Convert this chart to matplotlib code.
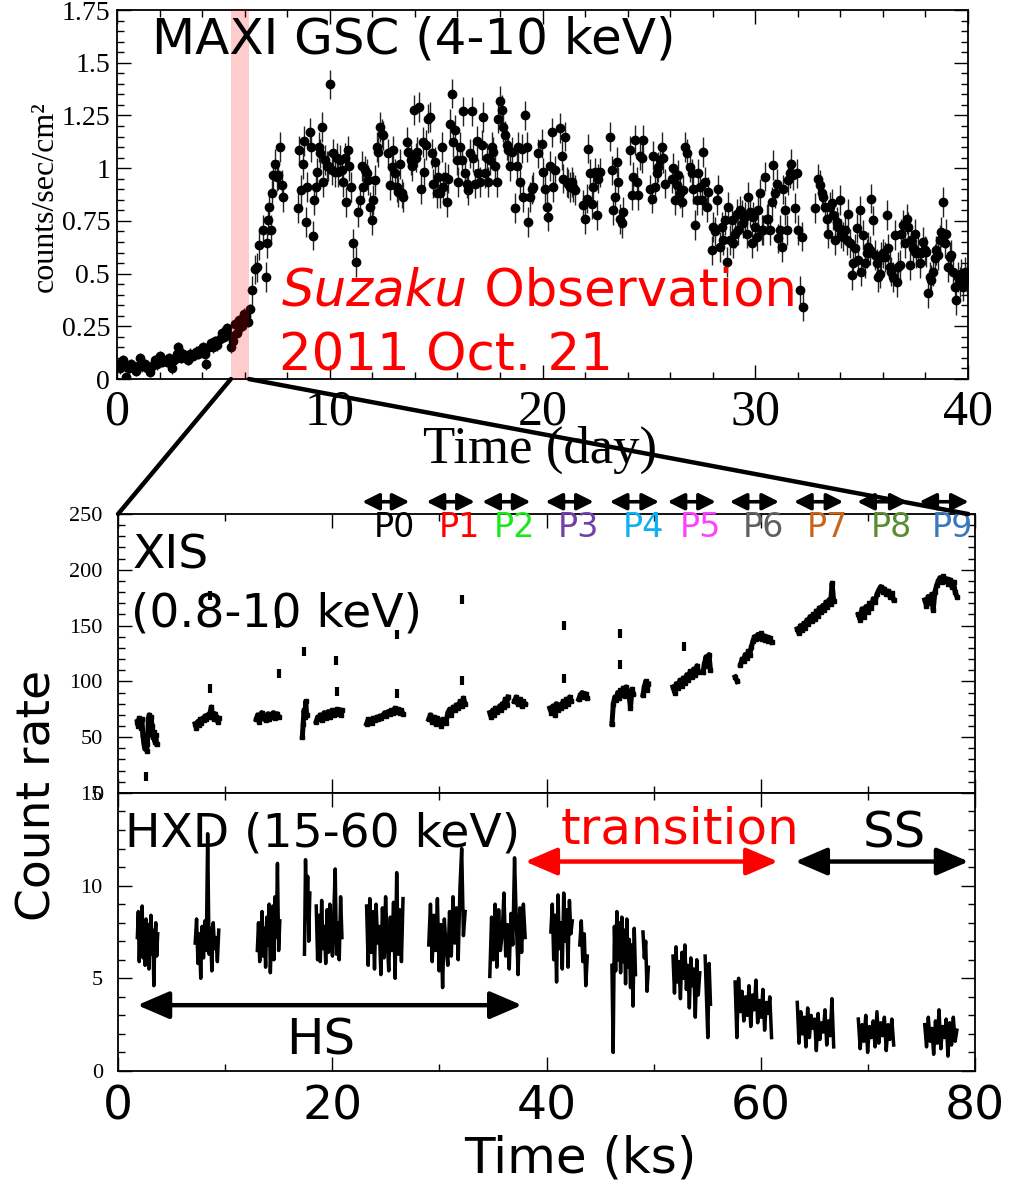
import numpy as np
import matplotlib.pyplot as plt
from matplotlib.patches import ConnectionPatch
from matplotlib.ticker import MultipleLocator

SERIF = 'Liberation Serif'
SANS = 'DejaVu Sans'

# MAXI GSC light curve (day, counts/sec/cm2)
maxi_points = [
    (0.05, 0.07), (0.15, 0.05), (0.28, 0.09), (0.38, 0.06), (0.44, 0.01), (0.55, 0.05), (0.65, 0.07),
    (0.75, 0.05), (0.88, 0.04), (1.0, 0.06), (1.06, 0.1), (1.15, 0.06), (1.3, 0.07), (1.4, 0.05),
    (1.53, 0.035), (1.62, 0.06), (1.77, 0.09), (1.88, 0.07), (2.0, 0.11), (2.1, 0.08), (2.2, 0.09),
    (2.33, 0.08), (2.45, 0.1), (2.56, 0.05), (2.68, 0.09), (2.8, 0.12), (2.88, 0.15), (3.0, 0.1),
    (3.1, 0.12), (3.22, 0.1), (3.35, 0.09), (3.45, 0.12), (3.58, 0.11), (3.7, 0.13), (3.8, 0.12),
    (3.9, 0.14), (4.02, 0.15), (4.12, 0.12), (4.2, 0.07), (4.32, 0.15), (4.42, 0.17), (4.5, 0.15),
    (4.62, 0.18), (4.72, 0.16), (4.84, 0.19), (4.95, 0.22), (5.05, 0.2), (5.15, 0.24), (5.25, 0.21),
    (5.35, 0.15), (5.45, 0.18), (5.55, 0.26), (5.65, 0.22), (5.75, 0.28), (5.85, 0.25), (5.95, 0.31),
    (6.05, 0.3), (6.15, 0.27), (6.25, 0.33),
    (6.33, 0.42), (6.49, 0.52), (6.56, 0.53), (6.69, 0.635), (6.85, 0.706), (6.99, 0.485), (7.03, 0.643),
    (7.11, 0.753), (7.16, 0.817), (7.22, 0.706), (7.3, 0.88), (7.35, 0.967), (7.42, 1.02), (7.5, 0.96),
    (7.58, 0.967), (7.66, 1.1), (7.74, 0.92), (7.82, 0.864),
    (8.49, 0.81), (8.57, 1.085), (8.63, 0.896), (8.72, 1.02), (8.8, 1.13), (8.88, 0.745), (8.94, 0.91),
    (9.07, 1.17), (9.13, 1.1), (9.2, 0.68), (9.26, 0.85), (9.34, 0.91), (9.41, 0.98), (9.48, 1.1),
    (9.54, 1.07), (9.62, 1.195), (9.7, 0.935), (9.77, 1.04), (9.85, 1.01), (9.93, 1.01), (10.0, 1.397),
    (10.09, 0.99), (10.17, 1.07), (10.24, 0.98), (10.32, 1.05), (10.4, 0.98), (10.48, 1.04), (10.56, 0.99),
    (10.64, 0.935), (10.71, 1.05), (10.76, 0.84), (10.84, 1.085), (10.92, 1.01), (10.98, 0.91),
    (11.1, 0.643), (11.22, 0.556), (11.34, 0.79), (11.42, 0.85), (11.5, 1.01), (11.58, 0.91), (11.65, 0.99),
    (11.73, 0.975), (11.81, 0.943), (11.89, 0.817), (11.97, 0.753), (12.05, 0.85), (12.12, 0.943),
    (12.2, 1.1), (12.28, 1.077), (12.36, 1.195), (12.44, 1.164), (12.52, 1.156), (12.75, 1.07),
    (12.83, 0.92), (12.91, 1.006), (12.99, 1.085), (13.06, 0.975), (13.14, 0.91), (13.22, 0.888),
    (13.3, 1.02), (13.38, 0.88), (13.46, 0.864), (13.61, 1.125), (13.69, 1.077), (13.8, 1.04),
    (13.88, 1.01), (13.96, 1.275), (14.04, 1.05), (14.11, 1.077), (14.19, 1.29), (14.28, 0.9),
    (14.36, 1.125), (14.44, 0.98), (14.52, 1.11), (14.6, 1.235), (14.71, 1.243), (14.79, 1.07),
    (14.87, 0.927), (14.94, 1.03), (15.02, 0.88), (15.1, 0.96), (15.18, 0.88), (15.26, 1.1), (15.34, 0.91),
    (15.41, 0.96), (15.49, 0.84), (15.57, 0.95), (15.65, 1.21), (15.73, 1.354), (15.8, 1.125), (15.88, 1.18),
    (15.96, 1.04), (16.04, 0.935), (16.12, 1.1), (16.2, 1.04), (16.27, 1.27), (16.35, 0.975), (16.43, 0.927),
    (16.51, 0.896), (16.59, 1.07), (16.67, 1.27), (16.75, 1.05), (16.82, 0.927), (16.9, 1.13), (16.98, 0.975),
    (17.06, 0.935), (17.14, 1.11), (17.22, 1.243), (17.3, 0.975), (17.37, 1.05), (17.45, 0.935), (17.53, 1.04),
    (17.61, 1.1), (17.69, 1.077), (17.76, 1.01), (17.84, 0.935), (17.92, 1.235), (18.0, 1.32), (18.08, 1.275),
    (18.16, 1.195), (18.24, 1.156), (18.31, 1.11), (18.39, 1.085), (18.47, 1.01), (18.55, 1.077), (18.71, 0.81),
    (18.78, 1.01), (18.86, 1.1), (18.94, 0.935), (19.02, 1.093), (19.1, 0.864), (19.18, 1.25), (19.25, 1.1),
    (19.33, 0.745), (19.41, 0.864), (19.49, 0.9), (19.56, 0.91), (19.8, 1.07), (19.96, 1.117), (20.04, 0.98),
    (20.11, 0.9), (20.19, 0.817), (20.27, 0.77), (20.35, 1.01), (20.43, 1.17), (20.51, 0.91), (20.58, 0.99),
    (20.82, 1.19), (20.9, 1.06), (20.98, 0.95), (21.05, 1.15), (21.13, 0.935), (21.21, 0.927), (21.29, 0.91),
    (21.37, 0.935), (21.45, 0.91), (21.53, 0.896), (21.92, 0.825), (22.0, 0.76), (22.07, 0.856), (22.16, 1.093),
    (22.23, 0.975), (22.31, 0.83), (22.39, 0.91), (22.47, 0.98), (22.55, 0.777), (22.62, 0.95), (22.7, 0.98),
    (23.17, 1.15), (23.25, 0.99), (23.33, 0.8), (23.41, 0.864), (23.49, 1.03), (23.56, 0.935), (23.64, 0.76),
    (23.72, 0.738), (23.8, 0.793), (24.11, 1.085), (24.19, 0.872), (24.27, 0.959), (24.35, 1.133),
    (24.43, 0.935), (24.51, 0.872), (24.58, 1.06), (24.66, 1.046), (24.74, 1.133), (25.05, 0.9), (25.13, 0.856),
    (25.21, 1.06), (25.29, 0.91), (25.37, 0.975), (25.45, 1.006), (25.52, 1.04), (25.6, 1.1), (25.68, 1.046),
    (25.76, 0.927), (26.07, 0.95), (26.15, 1.0), (26.23, 0.85), (26.31, 0.92), (26.39, 0.967), (26.46, 0.88),
    (26.54, 0.84), (26.62, 0.896), (26.7, 1.1), (26.78, 1.07), (26.93, 1.006), (27.01, 0.975), (27.09, 0.9),
    (27.17, 0.73), (27.25, 0.85), (27.33, 0.975), (27.41, 0.91), (27.49, 0.85), (27.56, 1.077), (27.64, 0.935),
    (27.72, 0.817), (27.8, 0.888), (27.95, 0.61), (28.03, 0.72), (28.11, 0.7), (28.19, 0.85), (28.27, 0.9),
    (28.35, 0.627), (28.42, 0.72), (28.5, 0.66), (28.58, 0.753), (28.66, 0.556), (28.74, 0.817), (28.81, 0.66),
    (28.89, 0.753), (28.97, 0.643), (29.05, 0.69), (29.13, 0.785), (29.2, 0.706), (29.28, 0.8), (29.36, 0.777),
    (29.44, 0.738), (29.52, 0.77), (29.6, 0.69), (29.67, 0.864), (29.75, 0.793), (29.83, 0.643), (29.91, 0.77),
    (29.98, 0.72), (30.06, 0.675), (30.14, 0.8), (30.22, 0.88), (30.3, 0.706), (30.38, 0.706), (30.45, 0.96),
    (30.53, 0.76), (30.61, 0.76), (30.69, 0.706), (30.77, 0.84), (30.84, 1.014), (30.92, 0.88), (31.0, 0.927),
    (31.08, 0.667), (31.16, 0.706), (31.24, 0.627), (31.31, 0.9), (31.39, 0.8), (31.47, 0.706), (31.55, 0.943),
    (31.63, 0.975), (31.7, 1.02), (31.78, 0.967), (31.86, 0.81), (31.94, 0.975), (32.02, 0.706), (32.1, 0.42),
    (32.18, 0.675), (32.25, 0.343),
    (32.81, 0.81), (32.96, 0.95), (33.04, 0.92), (33.12, 0.88), (33.2, 0.864), (33.27, 0.817), (33.35, 0.76),
    (33.43, 0.69), (33.51, 0.817), (33.59, 0.833), (33.66, 0.777), (33.74, 0.66), (33.82, 0.745), (33.9, 0.72),
    (33.98, 0.85), (34.05, 0.69), (34.13, 0.675), (34.21, 0.706), (34.29, 0.66), (34.37, 0.785), (34.45, 0.643),
    (34.53, 0.493), (34.6, 0.548), (34.68, 0.62), (34.76, 0.714), (34.84, 0.564), (34.92, 0.8), (34.99, 0.51),
    (35.07, 0.682), (35.15, 0.548), (35.23, 0.596), (35.31, 0.627), (35.39, 0.61), (35.46, 0.856), (35.54, 0.753),
    (35.62, 0.588), (35.7, 0.548), (35.78, 0.485), (35.86, 0.5), (35.93, 0.58), (36.01, 0.596), (36.09, 0.58),
    (36.17, 0.777), (36.25, 0.62), (36.32, 0.532), (36.4, 0.51), (36.48, 0.485), (36.56, 0.682), (36.64, 0.46),
    (36.72, 0.532), (36.79, 0.54), (36.87, 0.69), (36.95, 0.73), (37.03, 0.643), (37.11, 0.76), (37.18, 0.72),
    (37.26, 0.54), (37.34, 0.66), (37.42, 0.62), (37.5, 0.69), (37.57, 0.596), (37.65, 0.603), (37.73, 0.548),
    (37.81, 0.596), (37.89, 0.65), (37.97, 0.61), (38.04, 0.603), (38.12, 0.406), (38.2, 0.485), (38.28, 0.47),
    (38.36, 0.51), (38.44, 0.572), (38.51, 0.61), (38.59, 0.588), (38.67, 0.66), (38.75, 0.698), (38.83, 0.84),
    (38.9, 0.643), (38.98, 0.69), (39.06, 0.532), (39.14, 0.58), (39.22, 0.588), (39.29, 0.51), (39.37, 0.438),
    (39.45, 0.374), (39.53, 0.485), (39.61, 0.46), (39.69, 0.5), (39.77, 0.438), (39.85, 0.51), (39.93, 0.47),
]

# Suzaku observation window (day)
suzaku_start = 5.35
suzaku_end = 6.2

# XIS light curve, one entry per orbit: (start ks, end ks, count rates)
xis_segments = [
    (1.8, 3.6, [64, 60, 67, 62, 58, 66, 52, 45, 40, 48, 38, 44, 66, 70, 63, 68, 60, 50, 55, 46, 52, 44]),
    (7.2, 9.4, [62, 58, 64, 61, 66, 63, 67, 65, 69, 66, 70, 68, 72, 77, 70, 66, 71, 68, 64, 67]),
    (12.9, 15.0, [66, 70, 64, 68, 72, 67, 70, 65, 69, 71, 66, 70, 68, 72, 67, 69, 71, 68]),
    (17.2, 17.6, [50, 62, 74, 68, 82, 70]),
    (18.5, 20.9, [64, 68, 66, 70, 65, 69, 72, 67, 70, 73, 68, 71, 74, 70, 72, 75, 71, 73, 70, 74]),
    (23.2, 26.6, [62, 66, 64, 63, 67, 65, 68, 66, 69, 67, 70, 72, 69, 73, 71, 74, 72, 76, 73, 75, 72, 74, 71]),
    (29.0, 32.4, [66, 70, 64, 68, 62, 67, 65, 60, 66, 64, 63, 72, 75, 70, 77, 74, 79, 76, 82, 78, 85, 80]),
    (34.7, 36.4, [72, 68, 74, 70, 76, 73, 75, 78, 74, 80, 77, 84, 79, 86]),
    (37.0, 38.0, [82, 86, 80, 84, 78, 82, 80]),
    (40.3, 42.3, [76, 72, 78, 70, 80, 74, 79, 76, 82, 78, 84, 80, 86, 82]),
    (43.0, 43.8, [84, 88, 90, 86, 89, 85]),
    (46.1, 48.1, [62, 80, 86, 83, 90, 85, 92, 88, 94, 87, 95, 90, 88, 76, 93, 89]),
    (49.0, 49.5, [88, 95, 100, 92, 98]),
    (51.8, 54.2, [95, 90, 98, 94, 101, 96, 103, 99, 106, 101, 109, 104, 111, 106, 114, 108]),
    (54.6, 55.3, [108, 116, 122, 114, 124, 110]),
    (57.6, 57.8, [104, 100]),
    (58.1, 61.0, [115, 120, 118, 124, 121, 127, 124, 131, 136, 140, 138, 142, 139, 143, 138, 141, 137, 140, 136, 139, 135]),
    (63.4, 66.8, [147, 143, 150, 146, 152, 148, 155, 151, 158, 154, 160, 156, 163, 159, 166, 162, 168, 164, 171, 167, 173, 169, 188, 172]),
    (69.1, 72.4, [160, 155, 165, 158, 167, 162, 170, 166, 174, 171, 178, 182, 185, 180, 183, 178, 181, 176, 179, 173]),
    (75.3, 78.3, [173, 168, 176, 170, 178, 164, 180, 186, 190, 193, 189, 194, 190, 192, 187, 191, 185, 189, 180, 176]),
]
# isolated XIS bins (ks, count rate)
xis_single_t = [2.6, 8.6, 8.6, 14.9, 15.0, 17.4, 20.3, 20.4, 26.0, 26.0, 32.1, 32.1, 41.6, 41.6, 46.9, 46.9, 52.8]
xis_single_c = [15, 94, 177, 152, 107, 127, 119, 91, 89, 142, 101, 173, 103, 150, 143, 115, 131]

# HXD light curve: (start ks, end ks, count rates)
hxd_segments = [
    (1.8, 3.7, [7.2, 8.6, 5.9, 7.8, 6.4, 8.9, 6.1, 7.5, 5.7, 8.2, 6.8, 7.9, 5.5, 7.1, 8.4, 6.3, 7.6, 4.6, 7.0, 8.0, 6.2, 7.4]),
    (7.2, 9.4, [6.9, 8.2, 5.8, 7.4, 5.0, 7.8, 6.1, 8.1, 6.5, 12.8, 6.3, 7.7, 5.4, 8.0, 6.6, 7.2, 5.9, 7.6]),
    (13.0, 15.1, [6.5, 8.0, 5.9, 7.1, 8.6, 6.2, 7.7, 5.6, 8.3, 6.8, 9.0, 5.3, 7.4, 8.9, 6.0, 9.4, 7.2, 11.2, 6.5, 8.1]),
    (17.4, 17.9, [6.3, 11.4, 8.2, 10.5, 7.0, 9.6]),
    (18.5, 20.9, [8.9, 6.0, 8.4, 5.9, 9.2, 6.6, 7.8, 5.8, 8.7, 6.4, 9.0, 7.1, 6.2, 8.6, 10.9, 6.3, 8.0, 6.0, 9.4, 7.2]),
    (23.2, 26.6, [8.9, 5.7, 9.3, 6.4, 8.6, 5.5, 9.0, 6.9, 7.8, 5.2, 8.8, 6.1, 9.4, 7.0, 5.4, 8.3, 6.5, 9.1, 5.0, 10.7, 6.3, 8.7, 5.9, 9.3]),
    (29.0, 32.4, [6.8, 9.0, 5.9, 8.4, 6.5, 9.3, 5.4, 7.9, 4.5, 8.2, 6.7, 5.7, 8.6, 6.2, 9.4, 6.9, 8.8, 6.0, 9.9, 12.0, 7.3, 8.6]),
    (34.7, 38.0, [5.1, 8.3, 6.0, 9.0, 5.6, 8.7, 6.5, 7.4, 9.6, 6.2, 7.9, 5.5, 8.5, 6.8, 11.5, 8.1, 5.2, 8.8, 6.4, 9.0, 7.2]),
    (40.4, 42.4, [7.5, 9.0, 6.0, 8.4, 4.8, 9.5, 6.6, 8.0, 5.5, 9.6, 7.0, 8.7, 5.6, 9.2, 7.4, 8.1]),
    (43.1, 43.8, [6.8, 8.1, 5.9, 7.4, 4.6, 6.2]),
    (46.1, 48.3, [5.7, 1.0, 7.8, 5.4, 8.6, 6.0, 8.0, 5.3, 8.3, 5.9, 7.6, 4.7, 8.2, 5.6, 7.1, 4.5, 6.8, 3.5, 7.7, 5.2]),
    (49.0, 49.5, [7.5, 6.1, 7.0, 4.3, 5.6]),
    (51.8, 54.3, [6.2, 4.2, 6.7, 4.8, 5.9, 3.9, 6.4, 5.0, 6.8, 4.4, 5.7, 3.4, 6.1, 4.6, 5.5, 2.9, 6.0, 4.1, 5.3]),
    (54.8, 55.3, [6.2, 4.0, 1.8, 5.8, 3.6]),
    (57.6, 61.0, [4.8, 1.8, 5.0, 3.2, 4.3, 2.7, 4.0, 3.0, 4.6, 2.4, 4.1, 3.3, 4.9, 2.6, 3.8, 2.9, 4.4, 2.2, 3.7, 3.1, 4.0, 1.8]),
    (63.4, 66.8, [3.7, 1.5, 3.2, 2.0, 2.9, 1.3, 3.4, 1.8, 3.0, 2.3, 2.8, 1.1, 3.1, 1.7, 2.6, 2.1, 3.3, 1.4, 2.7, 1.9, 3.9, 1.3]),
    (69.1, 72.4, [2.8, 1.2, 2.5, 1.6, 3.0, 1.0, 2.4, 1.8, 2.7, 1.3, 3.2, 1.5, 2.6, 1.9, 2.9, 1.1, 2.5, 1.7, 2.8, 1.4]),
    (75.3, 78.3, [2.5, 1.3, 2.9, 1.6, 2.3, 0.9, 2.7, 1.5, 3.3, 1.2, 2.4, 1.8, 2.8, 0.8, 2.6, 1.4, 2.9, 1.6, 2.2]),
]

# spectral phases P0-P9 (ks)
phase_names = ['P0', 'P1', 'P2', 'P3', 'P4', 'P5', 'P6', 'P7', 'P8', 'P9']
phase_start = [22.8, 28.8, 34.0, 39.9, 45.9, 51.3, 57.1, 63.1, 69.0, 74.8]
phase_end = [27.2, 33.3, 38.5, 44.4, 50.5, 55.8, 61.7, 67.7, 73.7, 79.4]
phase_colors = ['#000000', '#ff0000', '#1ee61e', '#7040a8', '#10b0f0', '#ff40ff',
                '#606060', '#c8641e', '#5a8c32', '#3a78bc']

# states (ks)
hs_range = (1.8, 37.7)
trans_range = (38.0, 61.6)
ss_range = (63.2, 79.4)

fig = plt.figure(figsize=(10.09, 11.83), dpi=100)
ax1 = fig.add_axes([0.116, 0.6796, 0.8434, 0.3119])
ax2 = fig.add_axes([0.117, 0.3297, 0.8494, 0.2358])
ax3 = fig.add_axes([0.117, 0.0947, 0.8494, 0.2350])

for ax in (ax1, ax2, ax3):
    ax.tick_params(which='both', direction='in', top=True, right=True, width=1.0)
    ax.tick_params(which='major', length=10)
    ax.tick_params(which='minor', length=5)
    for s in ax.spines.values():
        s.set_linewidth(1.3)

# ---- top panel: MAXI ----
md = np.array([p[0] for p in maxi_points])
mr = np.array([p[1] for p in maxi_points])
merr = np.where(md < 6.3, 0.025, 0.07)
ax1.errorbar(md, mr, yerr=merr, fmt='o', color='black', ms=6, elinewidth=1.0,
             ecolor='#222222', capsize=0, zorder=2)
ax1.axvspan(suzaku_start, suzaku_end, color='red', alpha=0.2, lw=0, zorder=3)
ax1.set_xlim(0, 40)
ax1.set_ylim(0, 1.75)
ax1.xaxis.set_major_locator(MultipleLocator(10))
ax1.xaxis.set_minor_locator(MultipleLocator(2))
ax1.yaxis.set_minor_locator(MultipleLocator(0.05))
ax1.set_yticks([0, 0.25, 0.5, 0.75, 1.0, 1.25, 1.5, 1.75])
ax1.set_yticklabels(['0', '0.25', '0.5', '0.75', '1', '1.25', '1.5', '1.75'])
ax1.tick_params(axis='x', pad=7)
ax1.tick_params(axis='y', pad=5)
for lab in ax1.get_xticklabels():
    lab.set_fontfamily(SERIF)
    lab.set_fontsize(36)
for lab in ax1.get_yticklabels():
    lab.set_fontfamily(SERIF)
    lab.set_fontsize(20)

ax1.text(0.041, 0.883, 'MAXI GSC (4-10 keV)', transform=ax1.transAxes,
         fontsize=36, family=SANS, va='baseline', ha='left')
t_suz = ax1.text(0.194, 0.198, 'Suzaku', transform=ax1.transAxes, fontsize=37,
                 family=SANS, style='italic', color='red', va='baseline', ha='left')
ax1.annotate(' Observation', xy=(1, 0), xycoords=t_suz, fontsize=37, family=SANS,
             color='red', va='bottom', ha='left')
ax1.text(0.19, 0.024, '2011 Oct. 21', transform=ax1.transAxes, fontsize=37,
         family=SANS, color='red', va='baseline', ha='left')

fig.text(0.0446, 0.8335, 'counts/sec/cm²', rotation=90, family=SERIF, fontsize=23,
         ha='center', va='center')
fig.text(0.535, 0.6196, 'Time (day)', family=SERIF, fontsize=38, ha='center', va='center')

# ---- XIS panel ----
for t0, t1, vals in xis_segments:
    t = np.linspace(t0, t1, len(vals))
    ax2.plot(t, vals, color='black', lw=3.6, marker='s', ms=3.5)
ax2.errorbar(xis_single_t, xis_single_c, yerr=4, fmt='none', ecolor='black', elinewidth=3)
ax2.set_xlim(0, 80)
ax2.set_ylim(0, 250)
ax2.xaxis.set_major_locator(MultipleLocator(20))
ax2.xaxis.set_minor_locator(MultipleLocator(10))
ax2.yaxis.set_major_locator(MultipleLocator(50))
ax2.yaxis.set_minor_locator(MultipleLocator(10))
ax2.tick_params(axis='x', labelbottom=False)
ax2.tick_params(axis='y', pad=11)
for lab in ax2.get_yticklabels():
    lab.set_fontfamily(SERIF)
    lab.set_fontsize(16)
ax2.text(0.0175, 0.806, 'XIS', transform=ax2.transAxes, fontsize=34, family=SANS, va='baseline')
ax2.text(0.015, 0.595, '(0.8-10 keV)', transform=ax2.transAxes, fontsize=34, family=SANS, va='baseline')

for name, s, e, c in zip(phase_names, phase_start, phase_end, phase_colors):
    ax2.annotate('', xy=(e, 261), xytext=(s, 261), xycoords='data',
                 arrowprops=dict(arrowstyle='<|-|>,head_length=0.5,head_width=0.25',
                                 color='black', lw=2.6, mutation_scale=20,
                                 shrinkA=0, shrinkB=0, joinstyle='round'),
                 annotation_clip=False)
    ax2.text((s + e) / 2 + 0.8, 238, name, color=c, fontsize=24, family=SANS,
             ha='center', va='center')

# ---- HXD panel ----
for t0, t1, vals in hxd_segments:
    t = np.linspace(t0, t1, len(vals))
    ax3.plot(t, vals, color='black', lw=2.5)
ax3.set_xlim(0, 80)
ax3.set_ylim(0, 15)
ax3.xaxis.set_major_locator(MultipleLocator(20))
ax3.xaxis.set_minor_locator(MultipleLocator(10))
ax3.yaxis.set_major_locator(MultipleLocator(5))
ax3.yaxis.set_minor_locator(MultipleLocator(1))
ax3.tick_params(axis='x', pad=10)
ax3.tick_params(axis='y', pad=11)
for lab in ax3.get_xticklabels():
    lab.set_fontfamily(SANS)
    lab.set_fontsize(34)
for lab in ax3.get_yticklabels():
    lab.set_fontfamily(SERIF)
    lab.set_fontsize(16)

ax3.text(0.008, 0.806, 'HXD (15-60 keV)', transform=ax3.transAxes, fontsize=34,
         family=SANS, va='baseline')


def state_arrow(rng, y, color):
    ax3.annotate('', xy=(rng[1], y), xytext=(rng[0], y), xycoords='data',
                 arrowprops=dict(arrowstyle='<|-|>,head_length=0.65,head_width=0.28',
                                 color=color, lw=3.2, mutation_scale=30,
                                 shrinkA=0, shrinkB=0),
                 annotation_clip=False)


state_arrow(trans_range, 11.3, 'red')
state_arrow(ss_range, 11.3, 'black')
state_arrow(hs_range, 3.55, 'black')
ax3.text(52.5, 12.3, 'transition', color='red', fontsize=36, family=SANS, ha='center', va='baseline')
ax3.text(72.5, 12.04, 'SS', color='black', fontsize=36, family=SANS, ha='center', va='baseline')
ax3.text(0.236, 0.058, 'HS', transform=ax3.transAxes, color='black', fontsize=36,
         family=SANS, ha='center', va='baseline')

fig.text(0.038, 0.328, 'Count rate', rotation=90, family=SANS, fontsize=34, ha='center', va='center')
fig.text(0.575, 0.0211, 'Time (ks)', family=SANS, fontsize=36, ha='center', va='center')

# zoom connector lines
for xa, xb in ((suzaku_start, 0.0), (suzaku_end, 0.992)):
    con = ConnectionPatch(xyA=(xa, 0), coordsA=ax1.transData, xyB=(xb, 1), coordsB=ax2.transAxes,
                          color='black', lw=3.2)
    fig.add_artist(con)

fig.savefig('out.png', dpi=100)
